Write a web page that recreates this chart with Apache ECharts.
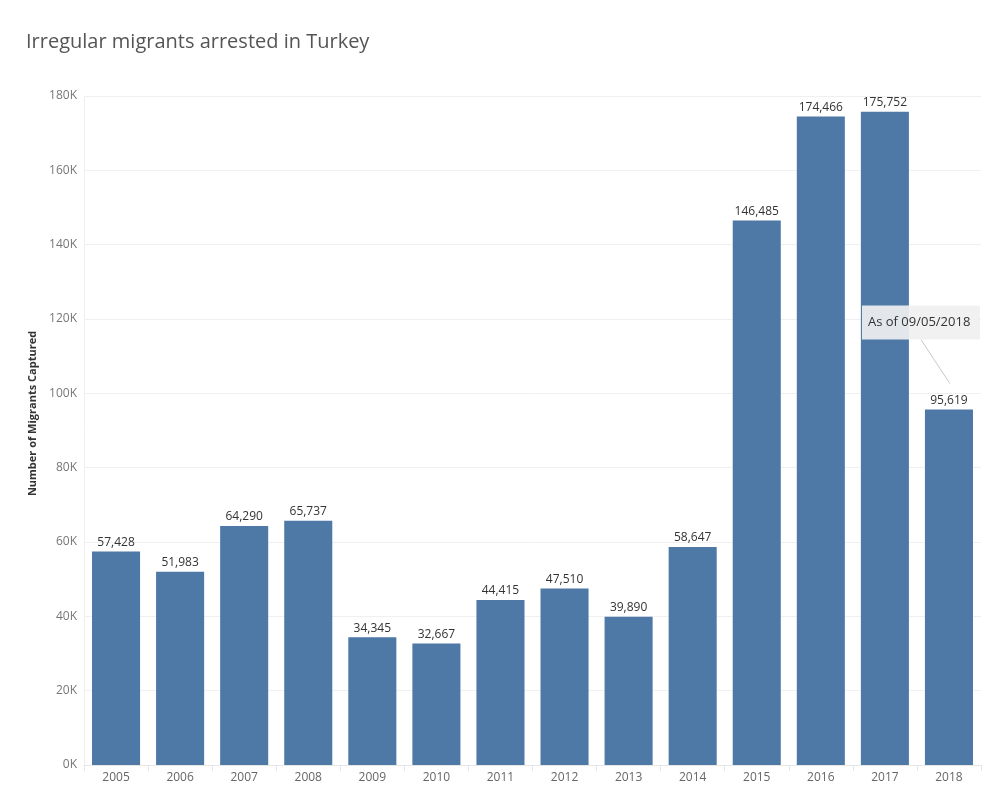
<!DOCTYPE html>
<html><head><meta charset="utf-8">
<script src="https://cdn.jsdelivr.net/npm/echarts@6/dist/echarts.min.js"></script>
<style>html,body{margin:0;padding:0;background:#fff}#c{width:999px;height:799px}</style>
</head><body><div id="c"></div>
<script>
const years = ['2005','2006','2007','2008','2009','2010','2011','2012','2013','2014','2015','2016','2017','2018'];
const migrants = [57428,51983,64290,65737,34345,32667,44415,47510,39890,58647,146485,174466,175752,95619];
const yTicks = [0,20000,40000,60000,80000,100000,120000,140000,160000,180000];
const noteText = 'As of 09/05/2018';
const noteYear = '2018';

const chart = echarts.init(document.getElementById('c'), null, {renderer:'canvas'});
const fmt = v => v.toLocaleString('en-US');
chart.setOption({
  animation:false,
  title:{text:'Irregular migrants arrested in Turkey', left:21, top:27,
    textStyle:{fontFamily:'Open Sans', fontSize:20, fontWeight:'normal', color:'#555'}},
  grid:{left:84, right:18, top:96, bottom:34},
  xAxis:{type:'category', data:years,
    axisLine:{show:true, lineStyle:{color:'#e6e6e6'}},
    axisTick:{show:true, alignWithLabel:false, length:6, lineStyle:{color:'#e6e6e6'}},
    axisLabel:{color:'#666', fontSize:12, fontFamily:'Open Sans', margin:7}},
  yAxis:{type:'value', min:yTicks[0], max:yTicks[yTicks.length-1], interval:20000,
    name:'Number of Migrants Captured', nameLocation:'middle', nameGap:45, nameRotate:90,
    nameTextStyle:{color:'#333', fontSize:11, fontFamily:'Open Sans', fontWeight:'bold', padding:[0,0,0,34]},
    axisLine:{show:true, lineStyle:{color:'#eeeeee'}},
    axisTick:{show:false},
    splitLine:{lineStyle:{color:'#f0f0f0'}},
    axisLabel:{color:'#777', fontSize:12, fontFamily:'Open Sans', margin:7,
      formatter:v => (v/1000)+'K'}},
  series:[{type:'bar', data:migrants, barWidth:'75%',
    itemStyle:{color:'#4e79a7'},
    label:{show:true, position:'top', distance:3, color:'#333', fontSize:12, fontFamily:'Open Sans',
      formatter:p => fmt(p.value)}}]
});

const idx = years.indexOf(noteYear);
const pt = chart.convertToPixel({seriesIndex:0}, [idx, migrants[idx]]);
const bx = pt[0] - 87, by = pt[1] - 104;
chart.setOption({graphic:[
  {type:'line', shape:{x1:pt[0]-28, y1:by+34, x2:pt[0]+1, y2:pt[1]-26},
    style:{stroke:'#c8c8c8', lineWidth:1}, z:10},
  {type:'rect', shape:{x:bx, y:by, width:118, height:34},
    style:{fill:'rgba(240,240,240,0.92)'}, z:10},
  {type:'text', x:bx+6, y:by+17, style:{text:noteText, fill:'#333', fontSize:13,
    fontFamily:'Open Sans', verticalAlign:'middle'}, z:11}
]});
</script></body></html>
